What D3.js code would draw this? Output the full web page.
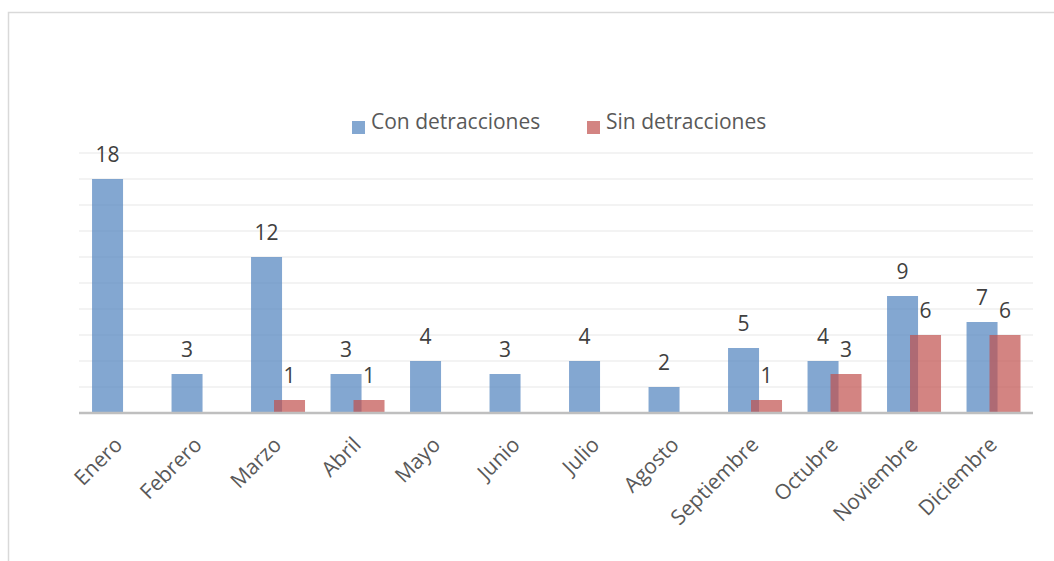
<!DOCTYPE html>
<html>
<head>
  <meta charset="utf-8">
  <title>Con / Sin detracciones por mes</title>
  <style>
    body { margin: 0; background: #fff; }
    text { font-family: "Open Sans", "Noto Sans", sans-serif; }
  </style>
  <script src="https://d3js.org/d3.v7.min.js"></script>
</head>
<body>
  <div id="chart"></div>
  <script>
    // datos
    var meses = ["Enero", "Febrero", "Marzo", "Abril", "Mayo", "Junio", "Julio",
                 "Agosto", "Septiembre", "Octubre", "Noviembre", "Diciembre"];
    var conDetracciones = [18, 3, 12, 3, 4, 3, 4, 2, 5, 4, 9, 7];
    var sinDetracciones = [null, null, 1, 1, null, null, null, null, 1, 3, 6, 6];
    var series = ["Con detracciones", "Sin detracciones"];
    var colores = ["#4f81bd", "#c0504d"];

    var W = 1054, H = 561;
    var plot = {left: 79, right: 1033, top: 153, bottom: 413};

    var svg = d3.select("#chart").append("svg")
        .attr("width", W)
        .attr("height", H);

    // marco del grafico
    svg.append("rect")
      .attr("x", 8.5).attr("y", 12.5)
      .attr("width", 1080).attr("height", 620)
      .attr("fill", "none")
      .attr("stroke", "#d9d9d9")
      .attr("stroke-width", 1.5);

    var x = d3.scaleBand()
      .domain(meses)
      .range([plot.left, plot.right]);

    var y = d3.scaleLinear()
      .domain([0, 20])
      .range([plot.bottom, plot.top]);

    // lineas de cuadricula
    svg.append("g")
      .selectAll("line")
      .data(y.ticks(10).filter(function(d) { return d > 0; }))
      .join("line")
        .attr("x1", plot.left).attr("x2", plot.right)
        .attr("y1", function(d) { return y(d); })
        .attr("y2", function(d) { return y(d); })
        .attr("stroke", "#efefef")
        .attr("stroke-width", 1.5);

    var bw = x.bandwidth();
    var barW = bw * 0.39;
    var offs = [bw * 0.164, bw * 0.453];
    var valores = [conDetracciones, sinDetracciones];

    valores.forEach(function(vals, s) {
      var datos = meses.map(function(m, i) { return {mes: m, v: vals[i]}; })
        .filter(function(d) { return d.v != null; });

      svg.append("g")
        .selectAll("rect")
        .data(datos)
        .join("rect")
          .attr("x", function(d) { return x(d.mes) + offs[s]; })
          .attr("y", function(d) { return y(d.v); })
          .attr("width", barW)
          .attr("height", function(d) { return y(0) - y(d.v); })
          .attr("fill", colores[s])
          .attr("fill-opacity", 0.7);

      svg.append("g")
        .selectAll("text")
        .data(datos)
        .join("text")
          .attr("x", function(d) { return x(d.mes) + offs[s] + barW / 2; })
          .attr("y", function(d) { return y(d.v) - 17; })
          .attr("text-anchor", "middle")
          .attr("font-size", 21)
          .attr("fill", "#404040")
          .text(function(d) { return d.v; });
    });

    // eje horizontal
    svg.append("line")
      .attr("x1", plot.left).attr("x2", plot.right)
      .attr("y1", plot.bottom).attr("y2", plot.bottom)
      .attr("stroke", "#bfbfbf")
      .attr("stroke-width", 2.5);

    svg.append("g")
      .selectAll("text")
      .data(meses)
      .join("text")
        .attr("transform", function(d) {
          return "translate(" + (x(d) + bw / 2 + 5) + "," + (plot.bottom + 33) + ") rotate(-45)";
        })
        .attr("text-anchor", "end")
        .attr("font-size", 21)
        .attr("fill", "#595959")
        .text(function(d) { return d; });

    // leyenda
    var leyX = [352, 587];
    series.forEach(function(nombre, s) {
      svg.append("rect")
        .attr("x", leyX[s]).attr("y", 121)
        .attr("width", 13).attr("height", 13)
        .attr("fill", colores[s])
        .attr("fill-opacity", 0.7);
      svg.append("text")
        .attr("x", leyX[s] + 19).attr("y", 129)
        .attr("font-size", 21)
        .attr("fill", "#595959")
        .text(nombre);
    });
  </script>
</body>
</html>
